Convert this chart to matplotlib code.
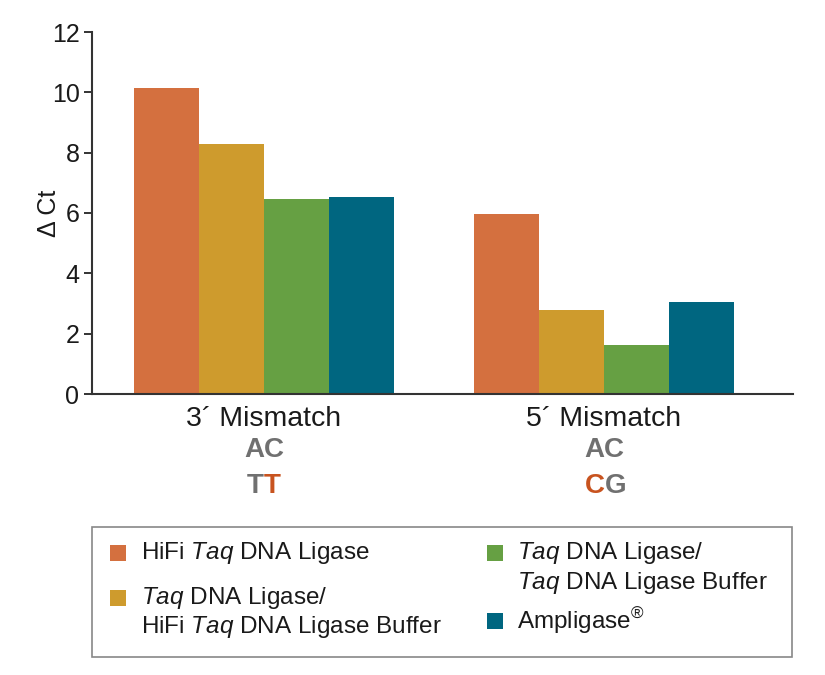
import matplotlib
matplotlib.use("Agg")
import matplotlib.pyplot as plt
from matplotlib.patches import Rectangle
import numpy as np

plt.rcParams['font.family'] = ['Liberation Sans', 'DejaVu Sans']
plt.rcParams['mathtext.fontset'] = 'custom'
plt.rcParams['mathtext.rm'] = 'Liberation Sans'
plt.rcParams['mathtext.it'] = 'Liberation Sans:italic'

categories = ["3\u00b4 Mismatch", "5\u00b4 Mismatch"]
series_names = ["HiFi $\\mathit{Taq}$ DNA Ligase",
                "$\\mathit{Taq}$ DNA Ligase/\nHiFi $\\mathit{Taq}$ DNA Ligase Buffer",
                "$\\mathit{Taq}$ DNA Ligase/\n$\\mathit{Taq}$ DNA Ligase Buffer",
                "Ampligase$^{\u00ae}$"]
hifi = [10.15, 5.97]
taq_hifi_buffer = [8.29, 2.78]
taq_taq_buffer = [6.45, 1.62]
ampligase = [6.53, 3.05]
colors = ["#D4703F", "#CE9B2D", "#66A043", "#006680"]
yticks = [0, 2, 4, 6, 8, 10, 12]

W, H = 825, 675
fig = plt.figure(figsize=(W / 100, H / 100), dpi=100)
ax = fig.add_axes([92 / W, 1 - 394 / H, (793 - 92) / W, (394 - 32) / H])

x = np.arange(len(categories))
width = 0.1915
all_series = [hifi, taq_hifi_buffer, taq_taq_buffer, ampligase]
for i, (vals, c) in enumerate(zip(all_series, colors)):
    ax.bar(x + (i - 1.5) * width, vals, width, color=c, linewidth=0)

ax.set_xlim(-0.506, 1.556)
ax.set_ylim(0, 12)
ax.set_yticks(yticks)
ax.set_yticklabels([str(t) for t in yticks], fontsize=18)
ax.set_xticks(x)
ax.set_xticklabels(categories, fontsize=20.5, color="#1a1a1a")
ax.tick_params(axis='x', length=0, pad=9)
ax.tick_params(axis='y', length=6, width=1.4, color="#333333", pad=3, labelcolor="#1a1a1a")
for s in ['top', 'right']:
    ax.spines[s].set_visible(False)
for s in ['left', 'bottom']:
    ax.spines[s].set_linewidth(1.5)
    ax.spines[s].set_color("#333333")
ax.set_ylabel("\u0394 Ct", fontsize=18, color="#1a1a1a")
ax.yaxis.set_label_coords((61 - 92) / (793 - 92), 0.5)

grey = "#707070"
red = "#C8531F"
trans = matplotlib.transforms.blended_transform_factory(ax.transData, fig.transFigure)
row1 = 1 - 450 / H
row2 = 1 - 486 / H
for xi in x:
    ax.text(xi, row1, "AC", transform=trans, ha='center', va='center',
            fontsize=20, fontweight='bold', color=grey)
# 3' : T T (second T red)
ax.text(x[0], row2, "T", transform=trans, ha='right', va='center',
        fontsize=20, fontweight='bold', color=grey)
ax.text(x[0], row2, "T", transform=trans, ha='left', va='center',
        fontsize=20, fontweight='bold', color=red)
# 5' : C G (C red)
ax.text(x[1] + 0.003, row2, "C", transform=trans, ha='right', va='center',
        fontsize=20, fontweight='bold', color=red)
ax.text(x[1] + 0.003, row2, "G", transform=trans, ha='left', va='center',
        fontsize=20, fontweight='bold', color=grey)

# legend box
fig.add_artist(Rectangle((92 / W, 1 - 657 / H), (792 - 92) / W, (657 - 527) / H,
                         transform=fig.transFigure, fill=False,
                         edgecolor="#888888", linewidth=1.2))
sq = 16
# (square left x, first-line center y, series index, line spacing, text left x)
entries = [(110, 553, 0, 29, 141), (110, 598, 1, 29, 141),
           (487, 553, 2, 30, 517), (487, 621, 3, 30, 517)]
for (px, py, k, lh, tx) in entries:
    fig.add_artist(Rectangle((px / W, 1 - (py + sq / 2) / H), sq / W, sq / H,
                             transform=fig.transFigure, facecolor=colors[k],
                             edgecolor='none'))
    lines = series_names[k].split("\n")
    for j, ln in enumerate(lines):
        fig.text(tx / W, 1 - (py + j * lh) / H, ln,
                 ha='left', va='center', fontsize=17.5, color="#1a1a1a")

fig.savefig("out.png", dpi=100)
